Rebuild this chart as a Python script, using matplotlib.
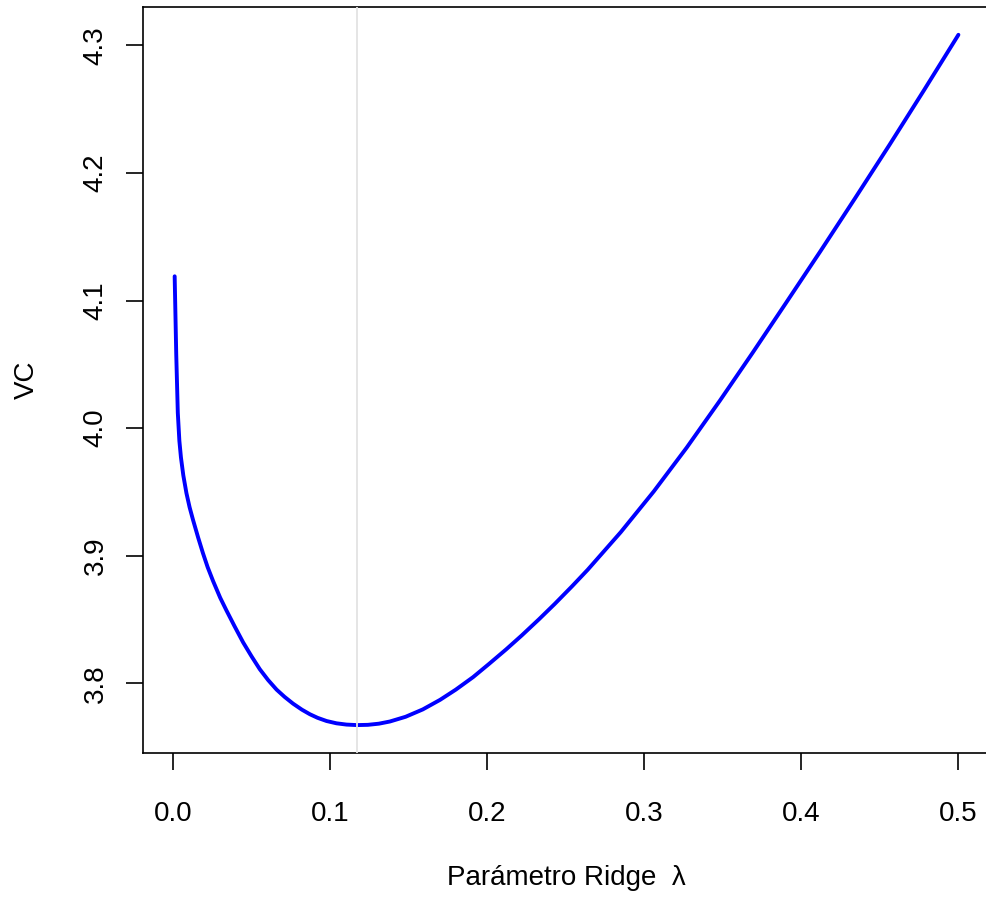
import matplotlib
matplotlib.use("Agg")
import matplotlib.pyplot as plt

# valores (lambda de ridge vs error de validacion cruzada)
lambdas = [0.001, 0.002, 0.003, 0.004, 0.005, 0.0065, 0.0085, 0.0105, 0.0127,
           0.016, 0.019, 0.022, 0.0255, 0.030, 0.034, 0.039, 0.0446, 0.050,
           0.0552, 0.0605, 0.0659, 0.071, 0.0764, 0.082, 0.0871, 0.092,
           0.0977, 0.104, 0.1104, 0.117, 0.124, 0.131, 0.138, 0.148, 0.159,
           0.170, 0.180, 0.191, 0.201, 0.212, 0.222, 0.233, 0.243, 0.254,
           0.264, 0.285, 0.306, 0.327, 0.348, 0.369, 0.390, 0.412, 0.434,
           0.456, 0.478, 0.500]
vc = [4.119, 4.058, 4.012, 3.990, 3.977, 3.963, 3.949, 3.938, 3.928,
      3.914, 3.902, 3.891, 3.880, 3.867, 3.857, 3.845, 3.832, 3.821,
      3.811, 3.8025, 3.7950, 3.7893, 3.7840, 3.7793, 3.7757, 3.7729,
      3.7704, 3.7686, 3.7676, 3.7672, 3.7674, 3.7683, 3.7700, 3.7737, 3.7795,
      3.7870, 3.7950, 3.8048, 3.8150, 3.8265, 3.8375, 3.8502, 3.8622, 3.8760,
      3.8890, 3.9184, 3.9503, 3.9847, 4.0213, 4.0591, 4.0977, 4.1384, 4.1798,
      4.2218, 4.2647, 4.3083]
lambda_opt = 0.117

x_ticks = [0.0, 0.1, 0.2, 0.3, 0.4, 0.5]
y_ticks = [3.8, 3.9, 4.0, 4.1, 4.2, 4.3]

plt.rcParams["font.family"] = ["Liberation Sans", "DejaVu Sans"]

fig = plt.figure(figsize=(9.87, 8.98), dpi=100)
ax = fig.add_axes([0.1452, 0.1618, 0.8576, 0.8302])

ax.plot(lambdas, vc, color="#0000ff", lw=2.8, solid_capstyle="round",
        solid_joinstyle="round", zorder=2)
ax.axvline(lambda_opt, color="#e3e3e3", lw=1.3, zorder=3)

# rangos estilo R (4% extra)
xr = max(lambdas) - min(lambdas)
yr = max(vc) - min(vc)
ax.set_xlim(min(lambdas) - 0.04 * xr, max(lambdas) + 0.04 * xr)
ax.set_ylim(min(vc) - 0.04 * yr, max(vc) + 0.04 * yr)

ax.set_xticks(x_ticks)
ax.set_xticklabels(["%.1f" % v for v in x_ticks])
ax.set_yticks(y_ticks)
ax.set_yticklabels(["%.1f" % v for v in y_ticks], rotation=90, va="center")

ax.tick_params(axis="both", direction="out", length=12.3, width=1.2,
               labelsize=20, color="black")
ax.tick_params(axis="x", pad=22.5)
ax.tick_params(axis="y", pad=12.5)
for sp in ax.spines.values():
    sp.set_linewidth(1.2)

ax.set_xlabel("Parámetro Ridge  λ", fontsize=20, labelpad=27)
ax.set_ylabel("VC", fontsize=20, labelpad=31)

fig.savefig("out.png", dpi=100)
